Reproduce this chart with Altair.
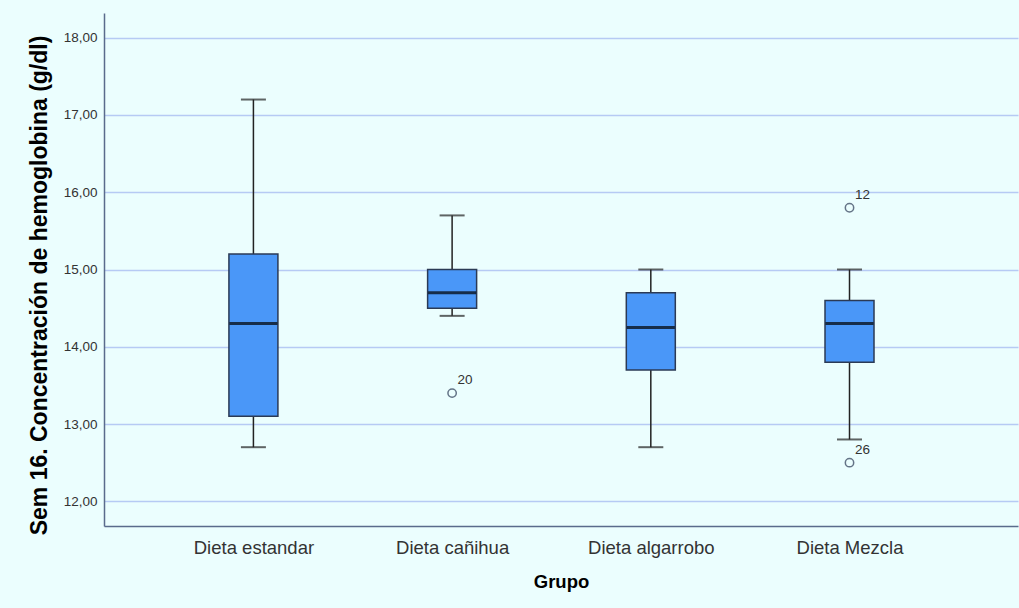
import altair as alt
import pandas as pd

groups = ["Dieta estandar", "Dieta cañihua", "Dieta algarrobo", "Dieta Mezcla"]
whisker_low = [12.7, 14.4, 12.7, 12.8]
q1 = [13.1, 14.5, 13.7, 13.8]
median = [14.3, 14.7, 14.25, 14.3]
q3 = [15.2, 15.0, 14.7, 14.6]
whisker_high = [17.2, 15.7, 15.0, 15.0]

outlier_group = ["Dieta cañihua", "Dieta Mezcla", "Dieta Mezcla"]
outlier_value = [13.4, 15.8, 12.5]
outlier_label = ["20", "12", "26"]

y_ticks = [12, 13, 14, 15, 16, 17, 18]

box = pd.DataFrame({
    "Grupo": groups, "lo": whisker_low, "q1": q1, "med": median,
    "q3": q3, "hi": whisker_high,
})
out = pd.DataFrame({"Grupo": outlier_group, "v": outlier_value, "lab": outlier_label})

BG = "#EBFEFE"
x_scale = alt.Scale(type="point", domain=groups, padding=0.80, align=0.47)
y_scale = alt.Scale(domain=[11.68, 18.32], nice=False, zero=False)

x_enc = alt.X("Grupo:N", scale=x_scale, sort=groups,
              axis=alt.Axis(title="Grupo", labelAngle=0, labelFontSize=18.5,
                            labelColor="#333333", labelPadding=12, ticks=False,
                            domainColor="#5A6B8C", domainWidth=1.5,
                            titleFontSize=18.5, titleFontWeight="bold",
                            titleColor="#000000", titlePadding=16,
                            labelFont="Liberation Sans", titleFont="Liberation Sans"))
y_axis = alt.Axis(title="Sem 16. Concentración de hemoglobina (g/dl)",
                  values=y_ticks, grid=True, gridColor="#B6CAF4", gridWidth=1.5,
                  labelExpr="replace(format(datum.value, '.2f'), '.', ',')",
                  labelFontSize=13.5, labelColor="#333333", labelPadding=7, ticks=False,
                  domainColor="#5A6B8C", domainWidth=1.5,
                  titleFontSize=23, titleFontWeight="bold", titleColor="#000000",
                  titleAngle=270, titleX=-65, titleY=272, titleAlign="center",
                  titleBaseline="middle",
                  labelFont="Liberation Sans", titleFont="Liberation Sans")

base = alt.Chart(box)

whisk = base.mark_rule(color="#222222", strokeWidth=1.5).encode(
    x=x_enc,
    y=alt.Y("lo:Q", scale=y_scale, axis=y_axis),
    y2="hi:Q",
)
caps_lo = base.mark_tick(color="#222222", thickness=2, size=25).encode(
    x=alt.X("Grupo:N", scale=x_scale, sort=groups), y=alt.Y("lo:Q", scale=y_scale))
caps_hi = base.mark_tick(color="#222222", thickness=2, size=25).encode(
    x=alt.X("Grupo:N", scale=x_scale, sort=groups), y=alt.Y("hi:Q", scale=y_scale))
boxes = base.mark_bar(size=49, color="#4A97F8", stroke="#2B3A55", strokeWidth=1.5).encode(
    x=alt.X("Grupo:N", scale=x_scale, sort=groups),
    y=alt.Y("q1:Q", scale=y_scale), y2="q3:Q")
med = base.mark_tick(color="#000000", thickness=3, size=48).encode(
    x=alt.X("Grupo:N", scale=x_scale, sort=groups), y=alt.Y("med:Q", scale=y_scale))

pts = alt.Chart(out).mark_point(shape="circle", filled=False, size=70,
                                color="#2B3A55", strokeWidth=1.5).encode(
    x=alt.X("Grupo:N", scale=x_scale, sort=groups), y=alt.Y("v:Q", scale=y_scale))
labs = alt.Chart(out).mark_text(dx=13, dy=-13, fontSize=13.5, color="#333333",
                                font="Liberation Sans").encode(
    x=alt.X("Grupo:N", scale=x_scale, sort=groups), y=alt.Y("v:Q", scale=y_scale),
    text="lab:N")

chart = alt.layer(whisk, caps_lo, caps_hi, boxes, med, pts, labs).properties(
    width=914, height=513,
    background=BG,
    padding={"left": 104, "top": 13, "right": 1, "bottom": 82},
    autosize=alt.AutoSizeParams(type="none"),
).configure_view(strokeWidth=0)

chart.save("out.html", embed_options={"renderer": "svg", "actions": False})
